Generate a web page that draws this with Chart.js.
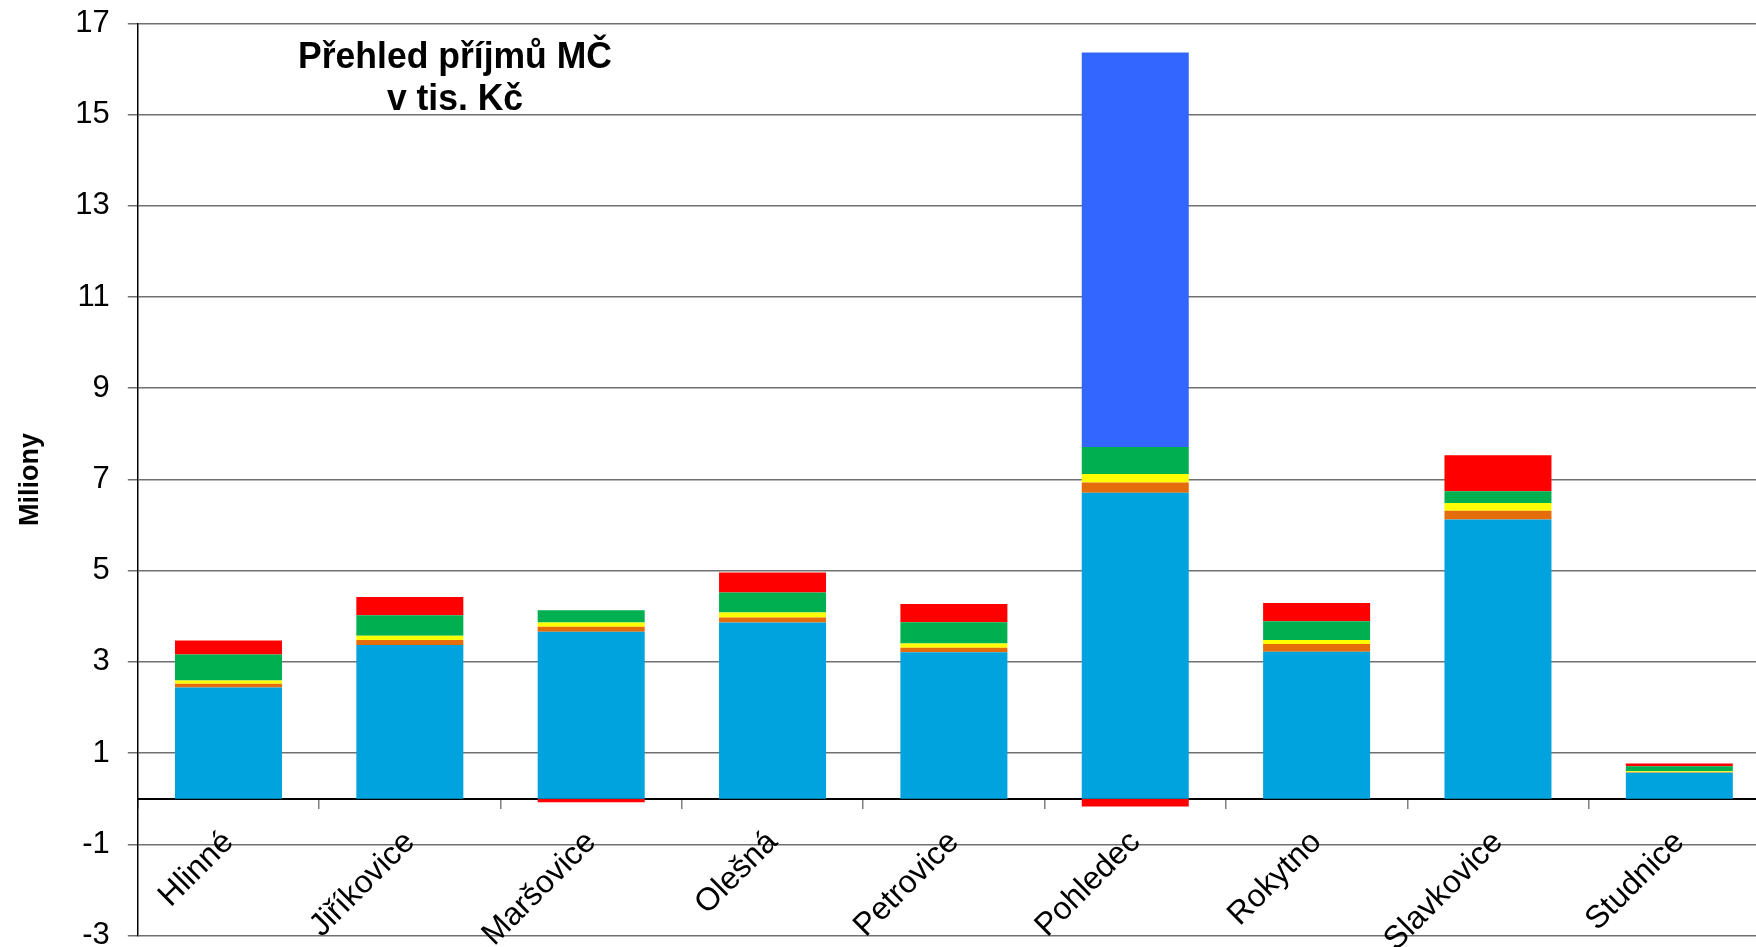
<!DOCTYPE html>
<html><head><meta charset="utf-8">
<script src="https://cdn.jsdelivr.net/npm/chart.js@4/dist/chart.umd.min.js"></script>
<style>
html,body{margin:0;padding:0;background:#fff;overflow:hidden;}
#wrap{position:absolute;left:0;top:0;width:1770px;height:947px;}
#title{position:absolute;left:255px;width:400px;top:35px;text-align:center;font:bold 37px "Liberation Sans",Arial,sans-serif;line-height:42px;color:#000;white-space:nowrap;transform:scaleX(0.96);}
</style></head><body>
<div id="wrap"><canvas id="c"></canvas></div>
<div id="title">Přehled příjmů MČ<br>v tis. Kč</div>
<script>
const categories = ["Hlinné","Jiříkovice","Maršovice","Olešná","Petrovice","Pohledec","Rokytno","Slavkovice","Studnice"];
const yTicks = [-3,-1,1,3,5,7,9,11,13,15,17];
const seriesNames = ["Řada 1","Řada 2","Řada 3","Řada 4","Řada 5","Řada 6"];
const serie1 = [2.44,3.37,3.66,3.86,3.21,6.71,3.22,6.12,0.57];
const serie2 = [0.08,0.11,0.11,0.11,0.10,0.22,0.17,0.19,0.01];
const serie3 = [0.07,0.09,0.09,0.11,0.09,0.19,0.09,0.17,0.02];
const serie4 = [0.57,0.45,0.27,0.44,0.47,0.59,0.41,0.26,0.11];
const serie5 = [0,0,0,0,0,8.65,0,0,0];
const serie6 = [0.31,0.40,-0.08,0.44,0.40,-0.17,0.40,0.79,0.06];
const colors = ["#00A3DD","#E46C0A","#FFFF00","#00B050","#3366FF","#FF0000"];

const allSeries = [serie1,serie2,serie3,serie4,serie5,serie6];
const datasets = allSeries.map((d,i)=>({
  label: seriesNames[i], data: d, backgroundColor: colors[i], borderWidth: 0,
  barPercentage: 0.59, categoryPercentage: 1.0, stack: 's'
}));

const FONT = '"Liberation Sans", Arial, sans-serif';
new Chart(document.getElementById('c'), {
  type: 'bar',
  data: { labels: categories, datasets },
  options: {
    responsive: true, maintainAspectRatio: false, animation: false,
    layout: { padding: { top: 23.3, right: 0, bottom: 11.5, left: 0 } },
    plugins: { legend: { display: false }, tooltip: { enabled: false } },
    scales: {
      x: {
        stacked: true,
        position: { y: 0 },
        afterFit: (s) => { s.paddingLeft = 0; s.paddingRight = 0; s.paddingTop = 0; s.paddingBottom = 0; },
        grid: { display: true, drawOnChartArea: false, drawTicks: true, tickLength: 9, color: '#808080', lineWidth: 1.5, offset: true },
        border: { display: true, color: '#000', width: 2 },
        ticks: { color: '#000', font: { family: FONT, size: 32 }, maxRotation: 45, minRotation: 45, padding: 16, autoSkip: false }
      },
      y: {
        stacked: true,
        min: -3, max: 17,
        afterBuildTicks: (s) => { s.ticks = yTicks.map(v => ({ value: v })); },
        afterFit: (s) => { s.width = 137.8; s.paddingTop = 0; s.paddingBottom = 0; },
        grid: { color: '#707070', lineWidth: 1.5, tickLength: 10, drawTicks: true },
        border: { display: true, color: '#000', width: 1.5 },
        ticks: { color: '#000', font: { family: FONT, size: 31 }, padding: 18 },
        title: { display: true, text: 'Miliony', color: '#000', font: { family: FONT, size: 27, weight: 'bold' }, padding: { top: 14, bottom: 0 } }
      }
    }
  }
});
</script>
</body></html>
